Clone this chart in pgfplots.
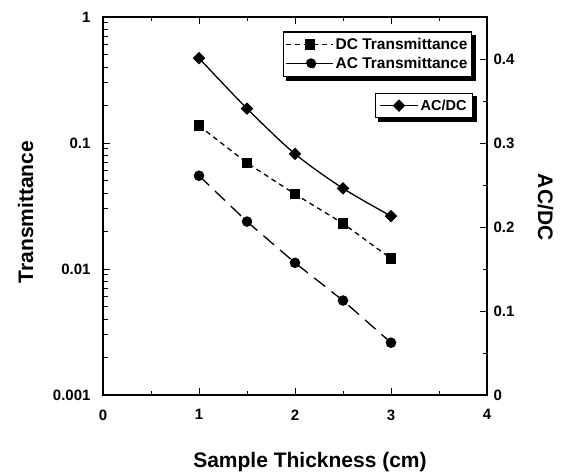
\documentclass[border=0pt]{standalone}
\usepackage{fontspec}
\setmainfont{Liberation Sans}
\usepackage{pgfplots}
\pgfplotsset{compat=1.18}
\pgfplotstableread{
x dc ac
1 0.137 0.055
1.5 0.0695 0.0238
2 0.0393 0.0112
2.5 0.023 0.00562
3 0.0121 0.0026
}\trans
\pgfplotstableread{
x r
1 0.401
1.5 0.341
2 0.287
2.5 0.246
3 0.213
}\ratio
\begin{document}
\begin{tikzpicture}
\pgfplotsset{
  common/.style={
    scale only axis, width=384pt, height=378pt,
    xmin=0, xmax=4, xtick={0,1,2,3,4},
    minor x tick num=1,
    /pgf/number format/assume math mode=true,
    tick label style={font=\fontsize{15}{16}\selectfont\bfseries},
    label style={font=\fontsize{21}{24}\selectfont\bfseries},
    axis line style={line width=1.5pt},
    major tick length=7pt, minor tick length=4.5pt,
    every tick/.style={black, line width=1pt},
    legend style={draw=black, line width=1.2pt, fill=white,
      font=\fontsize{15.5}{17}\selectfont\bfseries, cells={anchor=west},
      inner xsep=2pt, inner ysep=4.5pt, row sep=2pt},
  }
}
\begin{axis}[common,
  ymode=log, ymin=0.001, ymax=1,
  ytick={0.001,0.01,0.1,1}, yticklabels={0.001,0.01,0.1,1},
  ytick pos=left, xtick pos=both,
  xlabel={Sample Thickness (cm)}, ylabel={Transmittance},
  xlabel style={at={(axis description cs:0.539,-0.193)}, anchor=base},
  ylabel style={at={(axis description cs:-0.182,0.484)}, anchor=base},
  xticklabel style={yshift=-11pt},
  yticklabel style={xshift=-9pt},
  legend style={at={(0.961,0.962)}, anchor=north east, name=legA},
]
\addplot[black, line width=1.3pt, dash pattern=on 5pt off 4pt, mark=square*, mark size=4.7pt, mark options={solid},
  legend image code/.code={\draw[mark repeat=2,mark phase=2] plot coordinates {(0pt,0pt) (24pt,0pt) (47pt,0pt)};}] table[x=x, y=dc] {\trans};
\addlegendentry{DC Transmittance}
\addplot[black, line width=1.3pt, dash pattern=on 14pt off 8pt, mark=*, mark size=4.6pt, mark options={solid},
  legend image code/.code={\path (0pt,0pt) -- (47pt,0pt); \draw[solid] (13pt,0pt) -- (44pt,0pt); \fill (25pt,0pt) circle (4.6pt);}] table[x=x, y=ac] {\trans};
\addlegendentry{AC Transmittance}
\end{axis}
\begin{axis}[common,
  axis x line=none, axis y line*=right,
  ymin=0, ymax=0.45, ytick={0,0.1,0.2,0.3,0.4}, minor y tick num=1,
  yticklabel style={/pgf/number format/fixed, /pgf/number format/precision=1, xshift=3pt},
  ylabel={AC/DC},
  ylabel style={rotate=180, at={(axis description cs:1.133,0.497)}, anchor=base},
  legend style={at={(0.964,0.799)}, anchor=north east, name=legB,
    font=\fontsize{14.5}{16}\selectfont\bfseries, inner xsep=4pt, inner ysep=4pt},
]
\addplot[black, line width=1.3pt, smooth, mark=square*, mark size=3.8pt, mark options={solid, rotate=45},
  legend image code/.code={\draw[mark repeat=2,mark phase=2] plot coordinates {(0pt,0pt) (19pt,0pt) (38pt,0pt)};}] table[x=x, y=r] {\ratio};
\addlegendentry{AC/DC}
\end{axis}
\fill[black] ([shift={(-0.6pt,-3.5pt)}]legA.south east) rectangle ([shift={(3.5pt,-3.5pt)}]legA.north east);
\fill[black] ([shift={(3.5pt,-3.5pt)}]legA.south west) rectangle ([shift={(3.5pt,0.6pt)}]legA.south east);
\fill[black] ([shift={(-0.6pt,-3.5pt)}]legB.south east) rectangle ([shift={(3.5pt,-3.5pt)}]legB.north east);
\fill[black] ([shift={(3.5pt,-3.5pt)}]legB.south west) rectangle ([shift={(3.5pt,0.6pt)}]legB.south east);
\pgfresetboundingbox
\path (current axis.south west) ++(-103pt,-77pt) rectangle ++(564pt,472pt);
\end{tikzpicture}
\end{document}
